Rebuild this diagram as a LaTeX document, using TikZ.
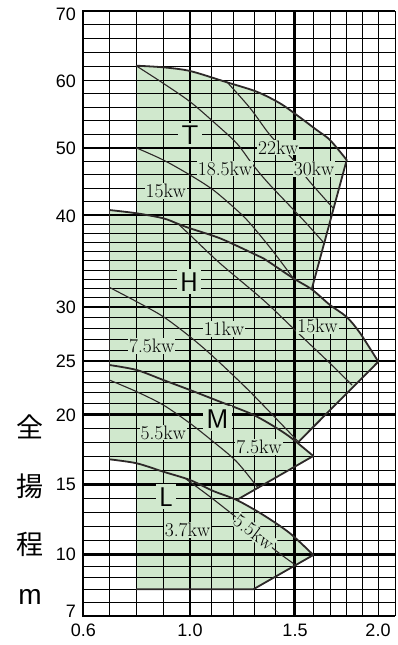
\documentclass[tikz,border=0pt]{standalone}
\usepackage{fontspec}
\newfontfamily\axisfont{Liberation Sans}
\newfontfamily\jpfont{Noto Sans CJK JP}
\definecolor{pumpgreen}{RGB}{208,232,205}
\definecolor{curvegray}{RGB}{45,40,40}

\begin{document}
\begin{tikzpicture}[x=1pt,y=-1pt,
    thin grid/.style={line width=0.9pt},
    mid grid/.style={line width=1.6pt},
    thick grid/.style={line width=2.6pt},
    limit/.style={curvegray,line width=1.8pt,line join=round},
    power/.style={curvegray,line width=1.1pt},
    kw/.style={fill=pumpgreen,inner sep=1pt,font=\fontsize{19.5}{19.5}\selectfont},
    model/.style={fill=pumpgreen,inner sep=3pt,font=\sffamily\fontsize{27}{27}\selectfont},
    axisnum/.style={font=\axisfont\fontsize{18}{18}\selectfont,inner sep=0pt},
    headlabel/.style={font=\jpfont\fontsize{27}{27}\selectfont,inner sep=0pt}]

  \useasboundingbox (0,0) rectangle (398,645);

  % corners of the model regions
  \coordinate (Ttl) at (136,65.7);
  \coordinate (Ttr) at (346.7,160);
  \coordinate (Tbr) at (311.7,289.3);
  \coordinate (Htl) at (109.3,210);
  \coordinate (Hr)  at (378.3,361.7);
  \coordinate (Hbr) at (298.3,442);
  \coordinate (Mtl) at (109.3,365);
  \coordinate (Mr)  at (313.3,456);
  \coordinate (Mbr) at (236.7,500);
  \coordinate (Ltl) at (109.3,459.3);
  \coordinate (Lr)  at (313.3,555);
  \coordinate (Lbr) at (253.3,589.3);
  \coordinate (Lbl) at (136,589.3);

  % green areas
  \fill[pumpgreen] (Ttl) -- plot[smooth] coordinates {(136,65.7) (163,67.3) (190,71) (225,81.7) (256.7,91.7) (280,103.3) (296.7,115) (316.7,130) (330,140) (346.7,160)}
    -- (Tbr) -- (136,289.3) -- cycle;
  \fill[pumpgreen] (Htl) -- plot[smooth] coordinates {(109.3,210) (136.7,213.3) (163.3,218.3) (178.3,224) (190,228.3) (220,238.3) (250,252) (263.3,258.3) (293.3,278.3) (311.7,289.3) (330,305) (346.7,317) (360,333) (378.3,361.7)}
    -- (Hbr) -- (109.3,442) -- cycle;
  \fill[pumpgreen] (Mtl) -- plot[smooth] coordinates {(109.3,365) (136.7,370) (163.3,380) (190,390) (220,401.7) (250,413.3) (270,424) (290,437) (313.3,456)}
    -- (Mbr) -- plot[smooth] coordinates {(236.7,500) (213.3,491) (190,480) (163.3,471.7) (136.7,463.3) (109.3,459.3)} -- cycle;
  \fill[pumpgreen] (136,463.3) -- plot[smooth] coordinates {(136.7,463.3) (163.3,471.7) (190,480) (213.3,491) (236.7,500) (263.3,515) (290,533.3) (313.3,555)}
    -- (Lbr) -- (Lbl) -- cycle;

  % grid
  \foreach \x in {109.5,136,163,211.5,233,254,275,313,330.5,346.5,362,378,395}
    \draw[thin grid] (\x,11) -- (\x,615.5);
  \foreach \y in {24.8,38.6,52.4,66.2,93.8,107.3,120.8,134.3,161.2,174.7,188.2,201.6,
                  224.2,233.3,242.5,251.7,260.9,270,279.2,288.4,297.5,317.5,328.3,339.2,350,
                  371.5,382.2,392.9,403.6,428.3,442.3,456.3,470.3,498.3,512.3,526.3,540.3,
                  566,577.7,589.3,602.4}
    \draw[thin grid] (82.5,\y) -- (395,\y);
  \foreach \y in {80.3,147.7,215,306.7}
    \draw[mid grid] (82.5,\y) -- (395,\y);
  \foreach \y in {360.8,414.3,484.3,554.3}
    \draw[thick grid] (82.5,\y) -- (395,\y);
  \foreach \x in {190,294.5}
    \draw[thick grid] (\x,11) -- (\x,615.5);
  \draw[line width=2pt] (395,11) -- (82.5,11) -- (82.5,615.5) -- (395,615.5);

  % upper limits of the models
  \draw[limit] plot[smooth] coordinates {(136,65.7) (163,67.3) (190,71) (225,81.7) (256.7,91.7) (280,103.3) (296.7,115) (316.7,130) (330,140) (346.7,160)} -- (Tbr);
  \draw[limit] plot[smooth] coordinates {(109.3,210) (136.7,213.3) (163.3,218.3) (178.3,224) (190,228.3) (220,238.3) (250,252) (263.3,258.3) (293.3,278.3) (311.7,289.3) (330,305) (346.7,317) (360,333) (378.3,361.7)} -- (Hbr);
  \draw[limit] plot[smooth] coordinates {(109.3,365) (136.7,370) (163.3,380) (190,390) (220,401.7) (250,413.3) (270,424) (290,437) (313.3,456)} -- (Mbr);
  \draw[limit] plot[smooth] coordinates {(109.3,459.3) (136.7,463.3) (163.3,471.7) (190,480) (213.3,491) (236.7,500) (263.3,515) (290,533.3) (313.3,555)} -- (Lbr) -- (Lbl);
  \draw[power] (Htl) -- (Ltl);

  % motor power curves
  \draw[power] plot[smooth] coordinates {(136,65.7) (163.3,83.3) (190,101.7) (213.3,121.7) (236.7,143.3) (253,165) (270,185) (303.3,220) (324,243)};
  \draw[power] plot[smooth] coordinates {(136,147.7) (163.3,160) (190,175) (213.3,190) (236.7,210) (250,223.3) (272,250) (293.3,278.3)};
  \draw[power] plot[smooth] coordinates {(226.7,81.7) (250,108) (270,135) (291.7,158) (308.3,180) (333.3,208.3)};
  \draw[power] plot[smooth] coordinates {(178.3,224) (190,235) (220,263.3) (263.3,300) (296.7,331.7) (330,363.3) (352,385)};
  \draw[power] plot[smooth] coordinates {(109.3,287.3) (136.7,301.7) (163.3,316.7) (190,336.7) (213.3,356.7) (250,391.7) (298.3,441.7)};
  \draw[power] plot[smooth] coordinates {(109.3,380) (136.7,391.7) (163.3,405) (190,423.3) (213.3,441.7) (236.7,461.7) (258.3,488.3)};
  \draw[power] plot[smooth] coordinates {(186,479) (210,496.7) (233.3,515) (254,532) (275,550) (295.5,565)};

  % labels
  \begin{scope}[every node/.style={model}]
    \node (T) at (190,135)   {T};
    \node (H) at (189,281.7) {H};
    \node (M) at (217.5,418.7) {M};
    \node (L) at (166,496.7) {L};
  \end{scope}
  \begin{scope}[every node/.style={kw}]
    \node (T15)  at (165.8,191)  {15kw};
    \node (T185) at (225,168.5)  {18.5kw};
    \node (T22)  at (278.3,147.5) {22kw};
    \node (T30)  at (314,169)    {30kw};
    \node (H75)  at (151.7,346)  {7.5kw};
    \node (H11)  at (224,329)    {11kw};
    \node (H15)  at (317.5,326)  {15kw};
    \node (M55)  at (163.3,432.5) {5.5kw};
    \node (M75)  at (259,446.7)  {7.5kw};
    \node (L37)  at (187.5,530)  {3.7kw};
    \node[rotate=-37] (L55) at (254,532) {5.5kw};
  \end{scope}

  % axes
  \begin{scope}[every node/.style={axisnum,anchor=east}]
    \node (y70) at (76,14.5)  {70};
    \node (y60) at (76,81)    {60};
    \node (y50) at (76,148)   {50};
    \node (y40) at (76,216)   {40};
    \node (y30) at (76,307.5) {30};
    \node (y25) at (76,361)   {25};
    \node (y20) at (76,415)   {20};
    \node (y15) at (76,484.5) {15};
    \node (y10) at (76,554.5) {10};
    \node (y7)  at (76,611)   {7};
  \end{scope}
  \begin{scope}[every node/.style={axisnum}]
    \node (x06) at (83.3,630) {0.6};
    \node (x10) at (190,630)  {1.0};
    \node (x15) at (295,630)  {1.5};
    \node (x20) at (378,630)  {2.0};
  \end{scope}
  \begin{scope}[every node/.style={headlabel}]
    \node (zen) at (30,427) {全};
    \node (you) at (30,486) {揚};
    \node (tei) at (30,544) {程};
    \node[font=\axisfont\fontsize{28}{28}\selectfont] (unit) at (30,597) {m};
  \end{scope}

\end{tikzpicture}
\end{document}
